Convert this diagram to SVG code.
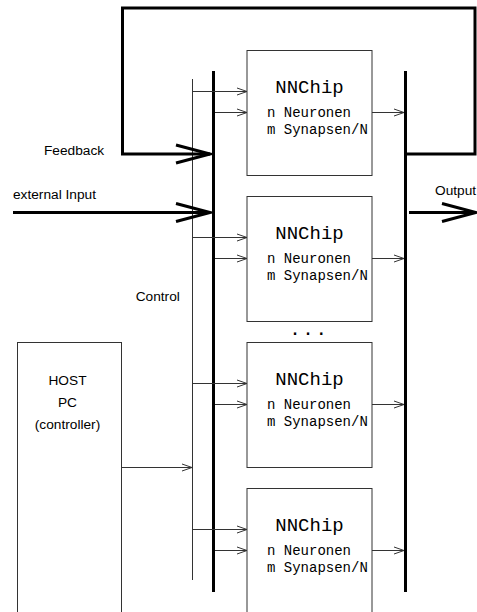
<svg xmlns="http://www.w3.org/2000/svg" width="477" height="612" viewBox="0 0 477 612">
<style>
.box{fill:#fff;stroke:#333;stroke-width:1}
.thin{fill:none;stroke:#333;stroke-width:1}
.thick{fill:none;stroke:#000;stroke-width:3}
.sans{font-family:"Liberation Sans",Arial,sans-serif;font-size:13.7px;fill:#000}
.t1{font-family:"Liberation Mono","Courier New",monospace;font-size:19px;fill:#000;text-anchor:middle}
.t2{font-family:"Liberation Mono","Courier New",monospace;font-size:14px;fill:#000}
</style>
<defs>
<marker id="ah" markerUnits="userSpaceOnUse" markerWidth="14" markerHeight="10" refX="11" refY="5" orient="auto">
<path d="M1,1.5 L11,5 L1,8.5" fill="none" stroke="#333" stroke-width="1"/>
</marker>
<marker id="AH" markerUnits="userSpaceOnUse" markerWidth="40" markerHeight="24" refX="36" refY="12" orient="auto">
<path d="M2,3 L36,12 L2,21" fill="none" stroke="#000" stroke-width="3" stroke-linejoin="miter"/>
</marker>
</defs>
<g id="chip1">
<rect class="box" x="247" y="50.5" width="125" height="125"/>
<text class="t1" x="309.5" y="92.5">NNChip</text>
<text class="t2" x="267" y="117">n Neuronen</text>
<text class="t2" x="267" y="134">m Synapsen/N</text>
</g>
<g id="chip2">
<rect class="box" x="247" y="196.5" width="125" height="125"/>
<text class="t1" x="309.5" y="238.5">NNChip</text>
<text class="t2" x="267" y="263">n Neuronen</text>
<text class="t2" x="267" y="280">m Synapsen/N</text>
</g>
<g id="chip3">
<rect class="box" x="247" y="342.5" width="125" height="125"/>
<text class="t1" x="309.5" y="384.5">NNChip</text>
<text class="t2" x="267" y="409">n Neuronen</text>
<text class="t2" x="267" y="426">m Synapsen/N</text>
</g>
<g id="chip4">
<rect class="box" x="247" y="488.5" width="125" height="125"/>
<text class="t1" x="309.5" y="530.5">NNChip</text>
<text class="t2" x="267" y="555">n Neuronen</text>
<text class="t2" x="267" y="572">m Synapsen/N</text>
</g>
<g id="host">
<rect class="box" x="17.5" y="342.5" width="104" height="280"/>
<text class="sans" x="67.5" y="384.5" text-anchor="middle">HOST</text>
<text class="sans" x="67.5" y="406.5" text-anchor="middle">PC</text>
<text class="sans" x="67.5" y="428.5" text-anchor="middle">(controller)</text>
</g>
<g id="dots">
<text class="sans" x="291.8" y="334.5" style="font-size:23.5px">. . .</text>
</g>
<g id="labels">
<text class="sans" x="44" y="155">Feedback</text>
<text class="sans" x="13" y="199">external Input</text>
<text class="sans" x="135.7" y="300.5">Control</text>
<text class="sans" x="435" y="195">Output</text>
</g>
<g id="connectors">
<line class="thick" x1="213.5" y1="71" x2="213.5" y2="592"/>
<line class="thick" x1="405.5" y1="71" x2="405.5" y2="592"/>
<line class="thin" x1="192.5" y1="79" x2="192.5" y2="580"/>
<polyline class="thick" points="405.5,154 475,154 475,8 122.5,8 122.5,154 210,154" marker-end="url(#AH)"/>
<line class="thick" x1="13" y1="212.5" x2="210" y2="212.5" marker-end="url(#AH)"/>
<line class="thick" x1="409" y1="212.5" x2="476" y2="212.5" marker-end="url(#AH)"/>
<line class="thin" x1="192.5" y1="91.5" x2="247" y2="91.5" marker-end="url(#ah)"/>
<line class="thin" x1="215" y1="112.5" x2="247" y2="112.5" marker-end="url(#ah)"/>
<line class="thin" x1="372" y1="112.5" x2="404" y2="112.5" marker-end="url(#ah)"/>
<line class="thin" x1="192.5" y1="237.5" x2="247" y2="237.5" marker-end="url(#ah)"/>
<line class="thin" x1="215" y1="258.5" x2="247" y2="258.5" marker-end="url(#ah)"/>
<line class="thin" x1="372" y1="258.5" x2="404" y2="258.5" marker-end="url(#ah)"/>
<line class="thin" x1="192.5" y1="383.5" x2="247" y2="383.5" marker-end="url(#ah)"/>
<line class="thin" x1="215" y1="404.5" x2="247" y2="404.5" marker-end="url(#ah)"/>
<line class="thin" x1="372" y1="404.5" x2="404" y2="404.5" marker-end="url(#ah)"/>
<line class="thin" x1="192.5" y1="529.5" x2="247" y2="529.5" marker-end="url(#ah)"/>
<line class="thin" x1="215" y1="550.5" x2="247" y2="550.5" marker-end="url(#ah)"/>
<line class="thin" x1="372" y1="550.5" x2="404" y2="550.5" marker-end="url(#ah)"/>
<line class="thin" x1="121.5" y1="467.5" x2="192" y2="467.5" marker-end="url(#ah)"/>
</g>
</svg>
